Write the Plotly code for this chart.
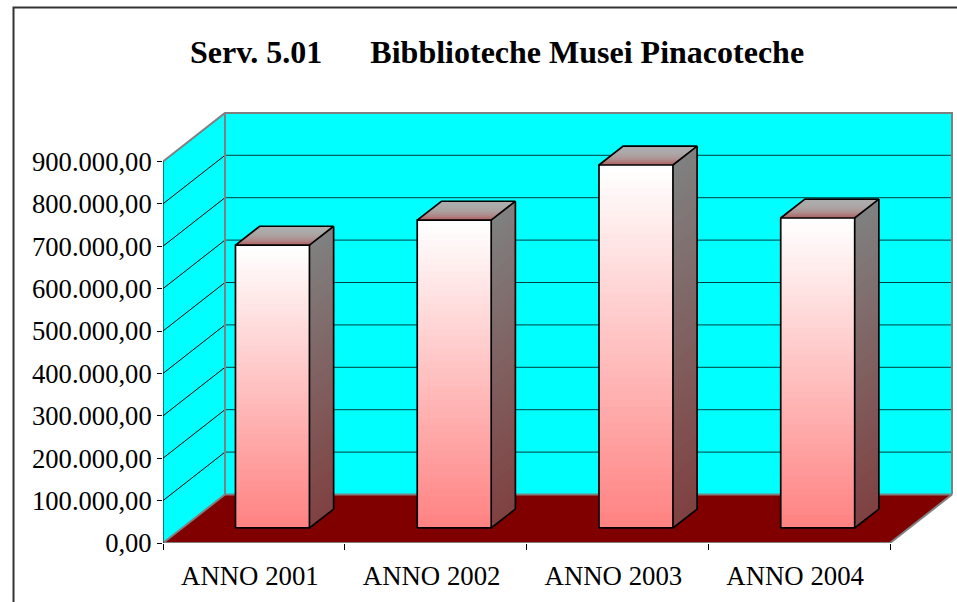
import plotly.graph_objects as go

# ---- data ----
categories = ["ANNO 2001", "ANNO 2002", "ANNO 2003", "ANNO 2004"]
values = [667000, 726000, 856000, 731000]
y_ticks = [0, 100000, 200000, 300000, 400000, 500000, 600000, 700000, 800000, 900000]
y_labels = ["0,00", "100.000,00", "200.000,00", "300.000,00", "400.000,00",
            "500.000,00", "600.000,00", "700.000,00", "800.000,00", "900.000,00"]
title_text = "Serv. 5.01\u00a0\u00a0\u00a0\u00a0\u00a0\u00a0Bibblioteche Musei Pinacoteche"

# ---- oblique projection settings (in axis units) ----
W, H = 957, 602
PX_L, PX_R, PX_T, PX_B = 163, 953, 112, 543
CAT_PX = 181.75
VAL_PX = 42.4 / 100000
DEPTH_X = 62 / CAT_PX
DEPTH_Y = 48.5 / VAL_PX
BAR_L, BAR_R = 0.293, 0.70
BAR_D0, BAR_D1 = 0.31, 0.70
N_BANDS = 48
FONT = "Liberation Serif"


def P(cat, val, depth=0.0):
    return cat + depth * DEPTH_X, val + depth * DEPTH_Y


def poly_xy(polys):
    xs, ys = [], []
    for poly in polys:
        pts = poly + [poly[0]]
        xs += [p[0] for p in pts] + [None]
        ys += [p[1] for p in pts] + [None]
    return xs, ys


def mix(c0, c1, t):
    return "rgb(%d,%d,%d)" % tuple(round(a + (b - a) * t) for a, b in zip(c0, c1))


fig = go.Figure()


def add_fill(polys, color):
    xs, ys = poly_xy(polys)
    fig.add_trace(go.Scatter(x=xs, y=ys, mode="lines", fill="toself", fillcolor=color,
                             line=dict(width=0, color=color), hoverinfo="skip",
                             showlegend=False, cliponaxis=False))


def add_line(segs, color, width):
    xs, ys = [], []
    for seg in segs:
        xs += [p[0] for p in seg] + [None]
        ys += [p[1] for p in seg] + [None]
    fig.add_trace(go.Scatter(x=xs, y=ys, mode="lines", line=dict(width=width, color=color),
                             hoverinfo="skip", showlegend=False, cliponaxis=False))


n = len(categories)
top = y_ticks[-1]

# walls and floor
add_fill([[P(0, 0), P(0, top), P(0, top, 1), P(0, 0, 1)]], "#00ffff")
add_fill([[P(0, 0, 1), P(0, top, 1), P(n, top, 1), P(n, 0, 1)]], "#00ffff")
add_fill([[P(0, 0), P(n, 0), P(n, 0, 1), P(0, 0, 1)]], "#800000")

# gridlines
add_line([[P(0, v), P(0, v, 1)] for v in y_ticks[1:-1]], "#000000", 1)
add_line([[P(0, v, 1), P(n, v, 1)] for v in y_ticks[1:-1]], "#003f3f", 1)

# wall outline
add_line([[P(0, top), P(0, top, 1), P(n, top, 1), P(n, 0, 1)],
          [P(0, 0, 1), P(0, top, 1)],
          [P(0, 0), P(0, 0, 1), P(n, 0, 1)],
          [P(n, 0), P(n, 0, 1)]], "#808080", 2)
add_line([[P(0, 0), P(n, 0)]], "#808080", 2)
add_line([[P(0, 0), P(0, top)]], "#000000", 1)

# bars: gradient built as painter-ordered bands from each bar's own value
WHITE, PINK = (255, 255, 255), (255, 128, 128)
G_TOP, G_BOT = (128, 128, 128), (128, 64, 64)
T_BACK, T_FRONT = (172, 172, 172), (176, 100, 100)

for k in range(N_BANDS):
    t = k / N_BANDS
    front, side = [], []
    for i, v in enumerate(values):
        yv = v * (1 - t)
        l, r = i + BAR_L, i + BAR_R
        front.append([P(l, 0, BAR_D0), P(r, 0, BAR_D0), P(r, yv, BAR_D0), P(l, yv, BAR_D0)])
        side.append([P(r, 0, BAR_D0), P(r, 0, BAR_D1), P(r, yv, BAR_D1), P(r, yv, BAR_D0)])
    add_fill(front, mix(WHITE, PINK, t))
    add_fill(side, mix(G_TOP, G_BOT, t))

N_TOP = 12
for k in range(N_TOP):
    t = (k + 1) / N_TOP
    d = BAR_D1 + (BAR_D0 - BAR_D1) * k / N_TOP
    polys = []
    for i, v in enumerate(values):
        l, r = i + BAR_L, i + BAR_R
        polys.append([P(l, v, BAR_D0), P(r, v, BAR_D0), P(r, v, d), P(l, v, d)])
    add_fill(polys, mix(T_BACK, T_FRONT, t ** 3))

# bar outlines
outl = []
for i, v in enumerate(values):
    l, r = i + BAR_L, i + BAR_R
    outl.append([P(l, 0, BAR_D0), P(r, 0, BAR_D0), P(r, v, BAR_D0), P(l, v, BAR_D0), P(l, 0, BAR_D0)])
    outl.append([P(l, v, BAR_D0), P(l, v, BAR_D1), P(r, v, BAR_D1), P(r, v, BAR_D0)])
    outl.append([P(r, v, BAR_D1), P(r, 0, BAR_D1), P(r, 0, BAR_D0)])
add_line(outl, "#000000", 1.7)

fig.update_layout(
    width=W, height=H,
    margin=dict(l=PX_L, r=W - PX_R, t=PX_T, b=H - PX_B, pad=0),
    paper_bgcolor="#ffffff", plot_bgcolor="rgba(0,0,0,0)",
    showlegend=False,
    font=dict(family=FONT, color="#000000", size=26),
    title=dict(text="<b>" + title_text + "</b>", x=497 / W, xanchor="center", xref="container",
               y=1 - 52 / H, yanchor="middle", font=dict(family=FONT, size=32, color="#000000")),
    shapes=[dict(type="rect", xref="paper", yref="paper", layer="below",
                 x0=(13.5 - PX_L) / (PX_R - PX_L), x1=(W + 20 - PX_L) / (PX_R - PX_L),
                 y0=-(H + 20 - PX_B) / (PX_B - PX_T), y1=(PX_B - 7.5) / (PX_B - PX_T),
                 line=dict(color="#333333", width=2), fillcolor="rgba(0,0,0,0)")],
)
fig.update_xaxes(range=[0, (PX_R - PX_L) / CAT_PX], showgrid=False, zeroline=False, showline=False,
                 tickmode="array", tickvals=[i + 0.478 for i in range(n)], ticktext=categories,
                 ticks="", ticklabelstandoff=14, tickfont=dict(family=FONT, size=26.8),
                 minor=dict(tickmode="array", tickvals=list(range(n + 1)), ticks="outside",
                            ticklen=6, tickwidth=1, tickcolor="#000000", showgrid=False))
fig.update_yaxes(range=[0, (PX_B - PX_T) / VAL_PX], showgrid=False, zeroline=False, showline=False,
                 tickmode="array", tickvals=y_ticks, ticktext=y_labels,
                 ticks="outside", ticklen=5, tickwidth=1, tickcolor="#000000",
                 tickfont=dict(family=FONT, size=26.6))

fig.write_html("out.html", config={"displayModeBar": False},
               post_script="document.body.style.margin='0';document.body.style.overflow='hidden';")
